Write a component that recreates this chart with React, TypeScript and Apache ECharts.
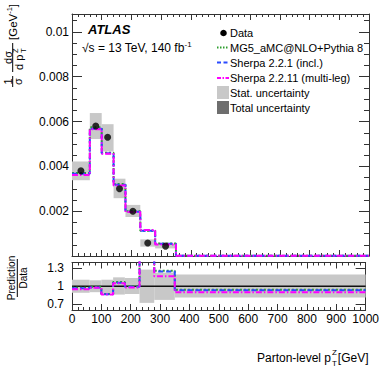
import React, { useEffect, useRef } from 'react';
import * as echarts from 'echarts';

// ---- data ----
const binEdges = [0, 60, 100, 140, 180, 230, 280, 350, 1000];
const dataValues = [0.0038, 0.0058, 0.0053, 0.003, 0.002, 0.00058, 0.00044, 0.000012];
// total uncertainty, relative to data (ratio-panel band)
const uncRelLow = [0.89, 0.9, 0.88, 0.86, 0.87, 0.72, 0.77, 0.81];
const uncRelHigh = [1.11, 1.1, 1.11, 1.15, 1.14, 1.28, 1.23, 1.2];
const mg5Values = [0.003705, 0.005742, 0.004611, 0.00321, 0.002, 0.00113, 0.000554, 0.0000113];
const sherpa221Values = [0.003667, 0.005684, 0.004585, 0.00318, 0.00198, 0.00113, 0.00055, 0.0000112];
const sherpa2211Values = [0.00361, 0.005655, 0.004558, 0.00315, 0.00196, 0.00116, 0.000515, 0.0000108];
const visibleDataBins = 7;
const ratioTickValues = [0.7, 1, 1.3];

const FONT = '"Liberation Sans", Arial, Helvetica, sans-serif';
const AX = '#333';
const GREEN = '#2e9e2e';
const BLUE = '#2a4bff';
const MAGENTA = '#ff00ff';
const STAT = '#c8c8c8';
const TOTAL = '#6e6e6e';

function stepData(vals: number[], f?: (v: number, i: number) => number) {
  const out: number[][] = [];
  for (let i = 0; i < vals.length; i++) {
    out.push([binEdges[i], f ? f(vals[i], i) : vals[i]]);
  }
  const last = vals.length - 1;
  out.push([binEdges[last + 1], f ? f(vals[last], last) : vals[last]]);
  return out;
}

function boxRender(params: any, api: any) {
  const x0 = api.value(0), x1 = api.value(1), lo = api.value(2), hi = api.value(3);
  const p0 = api.coord([x0, hi]);
  const p1 = api.coord([x1, lo]);
  const rect = echarts.graphic.clipRectByRect(
    { x: p0[0], y: p0[1], width: p1[0] - p0[0], height: p1[1] - p0[1] },
    { x: params.coordSys.x, y: params.coordSys.y, width: params.coordSys.width, height: params.coordSys.height }
  );
  if (!rect) return null;
  return { type: 'rect', shape: rect, style: { fill: STAT } };
}

function xAx(gridIndex: number, position: string, showLabels: boolean, major: number, minor: number) {
  return {
    type: 'value', gridIndex, position, min: 0, max: 1000, interval: 100,
    axisLine: { show: true, onZero: false, lineStyle: { color: AX, width: 1 } },
    axisTick: { show: true, inside: true, length: major, lineStyle: { color: AX } },
    minorTick: { show: true, splitNumber: 5, length: minor, lineStyle: { color: AX } },
    axisLabel: {
      show: showLabels, color: '#000', fontFamily: FONT, fontSize: 12, margin: 3,
      formatter: (v: number) => String(v),
    },
    splitLine: { show: false }, minorSplitLine: { show: false },
  };
}

const lineStyles = [
  { name: 'MG5', color: GREEN, type: 'dotted' as any, vals: mg5Values },
  { name: 'S221', color: BLUE, type: [5, 3] as any, vals: sherpa221Values },
  { name: 'S2211', color: MAGENTA, type: [6, 2, 1.5, 2] as any, vals: sherpa2211Values },
];

export default function App() {
  const ref = useRef<HTMLDivElement>(null);
  useEffect(() => {
    if (!ref.current) return;
    const chart = echarts.init(ref.current, undefined, { renderer: 'svg' });
    const mainBoxes = dataValues.map((v, i) => [binEdges[i], binEdges[i + 1], v * uncRelLow[i], v * uncRelHigh[i]]);
    const ratioBoxes = dataValues.map((v, i) => [binEdges[i], binEdges[i + 1], uncRelLow[i], uncRelHigh[i]]);
    const points = dataValues.slice(0, visibleDataBins).map((v, i) => [(binEdges[i] + binEdges[i + 1]) / 2, v]);

    const series: any[] = [
      { type: 'custom', xAxisIndex: 0, yAxisIndex: 0, renderItem: boxRender, data: mainBoxes, z: 1, silent: true },
      ...lineStyles.map((s, k) => ({
        type: 'line', xAxisIndex: 0, yAxisIndex: 0, step: 'end', symbol: 'none', data: stepData(s.vals),
        lineStyle: { color: s.color, width: 2, type: s.type }, z: 3 + k, silent: true,
      })),
      { type: 'scatter', xAxisIndex: 0, yAxisIndex: 0, data: points, symbol: 'circle', symbolSize: 7,
        itemStyle: { color: '#000' }, z: 10, silent: true },
      { type: 'custom', xAxisIndex: 2, yAxisIndex: 2, renderItem: boxRender, data: ratioBoxes, z: 1, silent: true },
      { type: 'line', xAxisIndex: 2, yAxisIndex: 2, symbol: 'none', data: [[0, 1], [1000, 1]],
        lineStyle: { color: '#111', width: 1.3 }, z: 2, silent: true },
      ...lineStyles.map((s, k) => ({
        type: 'line', xAxisIndex: 2, yAxisIndex: 2, step: 'end', symbol: 'none', clip: true,
        data: stepData(s.vals, (v, i) => v / dataValues[i]),
        lineStyle: { color: s.color, width: 2, type: s.type }, z: 3 + k, silent: true,
      })),
    ];

    const txt = (text: string, x: number, y: number, size: number, extra: any = {}) => ({
      type: 'text', x, y, silent: true,
      style: { text, fill: '#000', fontFamily: FONT, fontSize: size, verticalAlign: 'middle', align: 'left', ...extra },
    });

    const legendX = 217, legendTX = 230;
    const legendRows = [33, 47.5, 62.5, 78, 92.5, 107.5];
    const graphic: any[] = [
      txt('ATLAS', 88, 29.5, 13, { fontWeight: 'bold', fontStyle: 'italic' }),
      {
        type: 'text', x: 82, y: 48, silent: true,
        style: {
          text: '{a|√s = 13 TeV, 140 fb}{s|-1}', verticalAlign: 'middle', align: 'left',
          rich: {
            a: { fontFamily: FONT, fontSize: 12, lineHeight: 16, fill: '#000', color: '#000' },
            s: { fontFamily: FONT, fontSize: 8, verticalAlign: 'top', fill: '#000', color: '#000' },
          },
        },
      },
      // legend
      { type: 'circle', shape: { cx: 223.5, cy: legendRows[0], r: 3.3 }, style: { fill: '#000' }, silent: true },
      txt('Data', legendTX, legendRows[0], 11),
      { type: 'line', shape: { x1: legendX, y1: legendRows[1], x2: legendX + 12, y2: legendRows[1] },
        style: { stroke: GREEN, lineWidth: 2, lineDash: [1.5, 1.5] }, silent: true },
      txt('MG5_aMC@NLO+Pythia 8', legendTX, legendRows[1], 11),
      { type: 'line', shape: { x1: legendX, y1: legendRows[2], x2: legendX + 12, y2: legendRows[2] },
        style: { stroke: BLUE, lineWidth: 2, lineDash: [4, 2.5] }, silent: true },
      txt('Sherpa 2.2.1 (incl.)', legendTX, legendRows[2], 11),
      { type: 'line', shape: { x1: legendX, y1: legendRows[3], x2: legendX + 12, y2: legendRows[3] },
        style: { stroke: MAGENTA, lineWidth: 2, lineDash: [4, 1.5, 1.5, 1.5] }, silent: true },
      txt('Sherpa 2.2.11 (multi-leg)', legendTX, legendRows[3], 11),
      { type: 'rect', shape: { x: legendX, y: legendRows[4] - 6.5, width: 12, height: 13 }, style: { fill: STAT }, silent: true },
      txt('Stat. uncertainty', legendTX, legendRows[4], 11),
      { type: 'rect', shape: { x: legendX, y: legendRows[5] - 6.5, width: 12, height: 13 }, style: { fill: TOTAL }, silent: true },
      txt('Total uncertainty', legendTX, legendRows[5], 11),
      // main y title
      {
        type: 'group', x: 12.7, y: 90, rotation: Math.PI / 2, silent: true,
        children: [
          txt('1', 8.5, -5, 11, { align: 'center' }),
          { type: 'line', shape: { x1: 3, y1: 0, x2: 14, y2: 0 }, style: { stroke: '#000', lineWidth: 1 } },
          txt('σ', 8.5, 5.5, 11, { align: 'center' }),
          txt('dσ', 32.5, -5, 11, { align: 'center' }),
          { type: 'line', shape: { x1: 18, y1: 0, x2: 47, y2: 0 }, style: { stroke: '#000', lineWidth: 1 } },
          txt('d p', 20, 6, 11),
          txt('Z', 37, 2.5, 7.5),
          txt('T', 37, 11, 7.5),
          {
            type: 'text', x: 50, y: 0.5,
            style: {
              text: '{a|[GeV}{s|-1}{a|]}', verticalAlign: 'middle', align: 'left',
              rich: {
                a: { fontFamily: FONT, fontSize: 11.5, lineHeight: 16, fill: '#000', color: '#000' },
                s: { fontFamily: FONT, fontSize: 7.5, verticalAlign: 'top', fill: '#000', color: '#000' },
              },
            },
          },
        ],
      },
      // ratio y title
      {
        type: 'group', x: 17.3, y: 278, rotation: Math.PI / 2, silent: true,
        children: [
          txt('Prediction', 0, -5.5, 10, { align: 'center' }),
          { type: 'line', shape: { x1: -19, y1: 0, x2: 19, y2: 0 }, style: { stroke: '#000', lineWidth: 1 } },
          txt('Data', 0, 6, 10, { align: 'center' }),
        ],
      },
      // x title
      txt('Parton-level p', 331, 357.5, 12, { align: 'right' }),
      txt('Z', 332, 352, 8),
      txt('T', 332, 363, 8),
      txt('[GeV]', 368.5, 357.5, 12, { align: 'right' }),
    ];

    chart.setOption({
      animation: false,
      backgroundColor: '#fff',
      grid: [
        { left: 72, top: 14, width: 297, height: 242, containLabel: false },
        { left: 72, top: 262.5, width: 297, height: 47.5, containLabel: false },
      ],
      xAxis: [
        xAx(0, 'bottom', false, 6, 3),
        xAx(0, 'top', false, 6, 3),
        xAx(1, 'bottom', true, 6, 3),
        xAx(1, 'top', false, 6, 3),
      ],
      yAxis: [
        {
          type: 'value', gridIndex: 0, position: 'left', min: 0, max: 0.0108, interval: 0.002,
          axisLine: { show: true, onZero: false, lineStyle: { color: AX } },
          axisTick: { show: true, inside: true, length: 10, lineStyle: { color: AX } },
          minorTick: { show: true, splitNumber: 4, length: 5, lineStyle: { color: AX } },
          axisLabel: {
            show: true, color: '#000', fontFamily: FONT, fontSize: 12, margin: 3,
            showMinLabel: false, showMaxLabel: false,
            formatter: (v: number) => (v === 0 || v > 0.0101 ? '' : String(parseFloat(v.toFixed(4)))),
          },
          splitLine: { show: false },
        },
        {
          type: 'value', gridIndex: 0, position: 'right', min: 0, max: 0.0108, interval: 0.002,
          axisLine: { show: true, onZero: false, lineStyle: { color: AX } },
          axisTick: { show: true, inside: true, length: 10, lineStyle: { color: AX } },
          minorTick: { show: true, splitNumber: 4, length: 5, lineStyle: { color: AX } },
          axisLabel: { show: false }, splitLine: { show: false },
        },
        {
          type: 'value', gridIndex: 1, position: 'left', min: 0.6, max: 1.4,
          axisLine: { show: true, onZero: false, lineStyle: { color: AX } },
          axisTick: { show: true, inside: true, length: 10, customValues: ratioTickValues, lineStyle: { color: AX } },
          axisLabel: {
            show: true, color: '#000', fontFamily: FONT, fontSize: 12, margin: 8,
            customValues: ratioTickValues, formatter: (v: number) => String(parseFloat(v.toFixed(2))),
          },
          splitLine: { show: false },
        },
        {
          type: 'value', gridIndex: 1, position: 'right', min: 0.6, max: 1.4,
          axisLine: { show: true, onZero: false, lineStyle: { color: AX } },
          axisTick: { show: true, inside: true, length: 10, customValues: ratioTickValues, lineStyle: { color: AX } },
          axisLabel: { show: false }, splitLine: { show: false },
        },
      ],
      series,
      graphic,
    });
    return () => chart.dispose();
  }, []);
  return <div ref={ref} style={{ position: 'fixed', left: 0, top: 0, width: 382, height: 367, background: '#fff' }} />;
}
